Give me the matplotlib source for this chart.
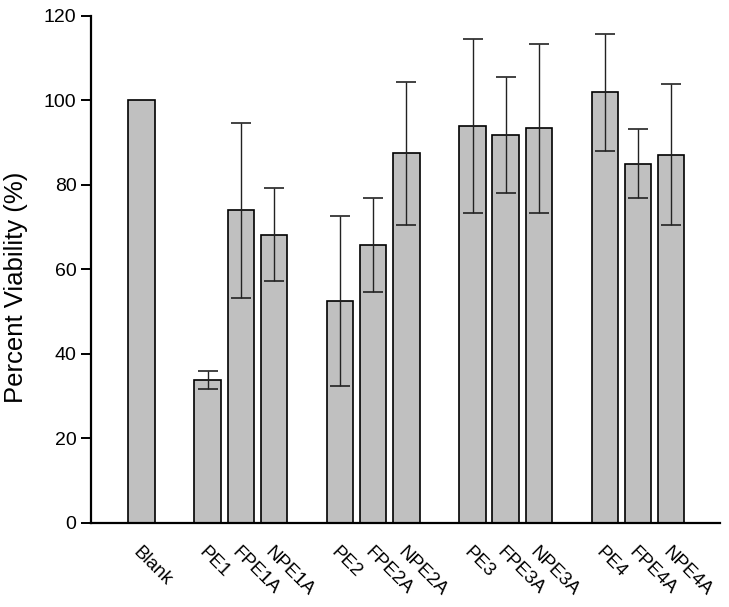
import matplotlib.pyplot as plt
import numpy as np

plt.rcParams['font.family'] = ['Liberation Sans', 'DejaVu Sans']

# data
labels = ['Blank', 'PE1', 'FPE1A', 'NPE1A', 'PE2', 'FPE2A', 'NPE2A',
          'PE3', 'FPE3A', 'NPE3A', 'PE4', 'FPE4A', 'NPE4A']
viability = [100, 33.7, 74.0, 68.2, 52.5, 65.8, 87.4, 93.9, 91.8, 93.4, 101.9, 85.0, 87.1]
errors = [0, 2.1, 20.7, 11.0, 20.2, 11.1, 17.0, 20.5, 13.8, 20.0, 13.9, 8.2, 16.7]
positions = [0, 2, 3, 4, 6, 7, 8, 10, 11, 12, 14, 15, 16]

fig = plt.figure(figsize=(7.29, 6.07), dpi=100)
ax = fig.add_axes([0.125, 0.139, 0.863, 0.835])

err = [e if e > 0 else np.nan for e in errors]
ax.bar(positions, viability, width=0.8, color='#c0c0c0', edgecolor='black', linewidth=1.2)
ax.errorbar(positions, viability, yerr=err, fmt='none', ecolor='#222222',
            elinewidth=1.0, capsize=7, capthick=1.2)

ax.set_xlim(-1.52, 17.48)
ax.set_ylim(0, 120)
ax.set_yticks([0, 20, 40, 60, 80, 100, 120])
ax.set_ylabel('Percent Viability (%)', fontsize=18.5)
ax.yaxis.set_label_coords(-0.1, 0.465)

ax.spines['top'].set_visible(False)
ax.spines['right'].set_visible(False)
ax.spines['left'].set_linewidth(1.6)
ax.spines['bottom'].set_linewidth(1.6)
ax.tick_params(axis='y', length=7, width=1.4, labelsize=14)
ax.set_xticks(positions)
ax.set_xticklabels(labels, rotation=-45, ha='left', va='top',
                   rotation_mode='anchor', fontsize=13.5)
ax.tick_params(axis='x', length=0, pad=15)

fig.savefig('out.png', dpi=100)
